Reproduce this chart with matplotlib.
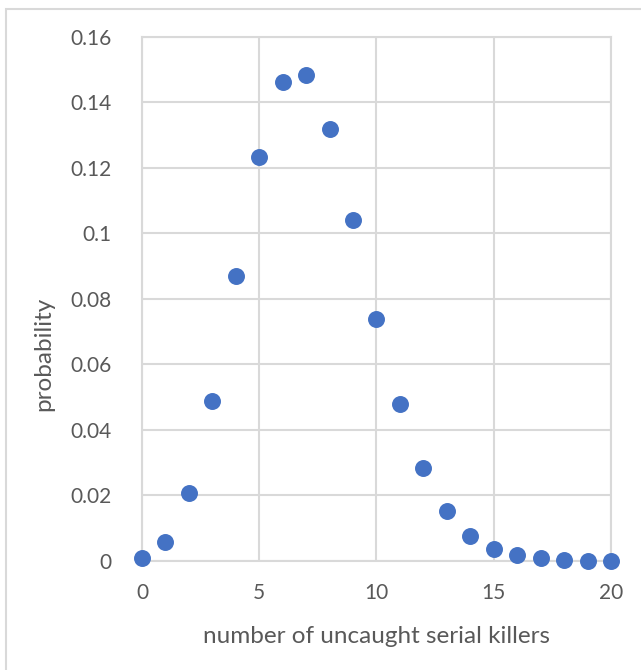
import numpy as np
import matplotlib
matplotlib.use('Agg')
import matplotlib.pyplot as plt
from matplotlib.patches import Rectangle

plt.rcParams['font.family'] = ['Lato', 'DejaVu Sans']

killers = list(range(0, 21))
prob = [0.001, 0.0058, 0.0208, 0.0489, 0.0870, 0.1234, 0.1463, 0.1484, 0.1319, 0.1041,
        0.0739, 0.0479, 0.0284, 0.0153, 0.0076, 0.0037, 0.0018, 0.0008, 0.0003, 0.0001, 0.0]

xticks = [0, 5, 10, 15, 20]
yticks = [0, 0.02, 0.04, 0.06, 0.08, 0.1, 0.12, 0.14, 0.16]
yticklabels = ['0', '0.02', '0.04', '0.06', '0.08', '0.1', '0.12', '0.14', '0.16']

fig = plt.figure(figsize=(6.41, 6.70), dpi=100)
ax = fig.add_axes([0.2215, 0.1627, 0.7317, 0.7821])

# chart border, only left/top show (rest is cropped off)
top = 1 - 8.5 / 670
fig.patches.append(Rectangle((5.5 / 641, -0.1), 1.2, top + 0.1,
                             transform=fig.transFigure, fill=False,
                             edgecolor='#D9D9D9', linewidth=1.5))

ax.scatter(killers, prob, s=125, color='#4472C4', zorder=3, clip_on=False)

ax.set_xlim(0, 20)
ax.set_ylim(0, 0.16)
ax.set_xticks(xticks)
ax.set_yticks(yticks)
ax.set_yticklabels(yticklabels)
ax.grid(True, color='#D9D9D9', linewidth=1.5)
ax.set_axisbelow(True)
for s in ax.spines.values():
    s.set_color('#D9D9D9')
    s.set_linewidth(1.5)
ax.tick_params(length=0, labelsize=15, colors='#595959', pad=16)
ax.tick_params(axis='y', pad=22)
ax.set_xlabel('number of uncaught serial killers', fontsize=17.5, color='#595959')
ax.set_ylabel('probability', fontsize=17.5, color='#595959')
ax.xaxis.set_label_coords(0.5, -0.124)
ax.yaxis.set_label_coords(-0.186, 0.395)

fig.savefig('out.png', dpi=100)
